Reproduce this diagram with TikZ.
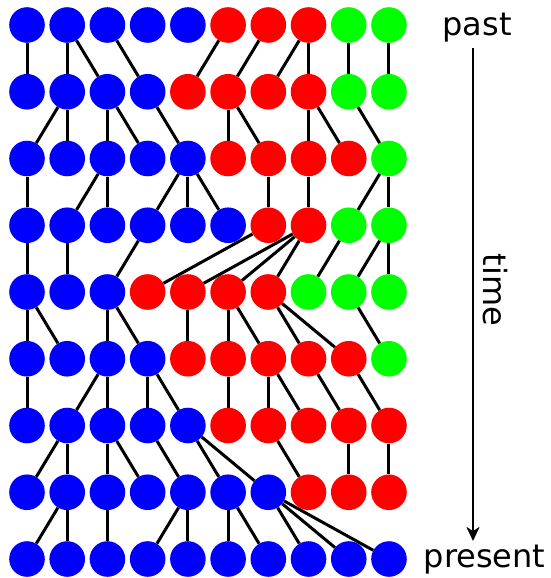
\documentclass[tikz,border=0pt]{standalone}
\usepackage{fontspec}
\setmainfont{DejaVu Sans}
\usetikzlibrary{arrows.meta}
\definecolor{cB}{RGB}{0,0,255}
\definecolor{cR}{RGB}{255,0,0}
\definecolor{cG}{RGB}{0,255,0}
\begin{document}
\begin{tikzpicture}[x=1pt,y=-1pt,
  dot/.style={circle,inner sep=0pt,minimum size=35.6pt,draw=none},
  link/.style={line width=3pt,black},
  lbl/.style={font=\fontsize{32}{38}\selectfont,inner sep=0pt}]
\useasboundingbox (0,0) rectangle (551,578);
% individuals: one row per generation, coloured by lineage
\foreach \r/\row in {
  0/{cB,cB,cB,cB,cB,cR,cR,cR,cG,cG},
  1/{cB,cB,cB,cB,cR,cR,cR,cR,cG,cG},
  2/{cB,cB,cB,cB,cB,cR,cR,cR,cR,cG},
  3/{cB,cB,cB,cB,cB,cB,cR,cR,cG,cG},
  4/{cB,cB,cB,cR,cR,cR,cR,cG,cG,cG},
  5/{cB,cB,cB,cB,cR,cR,cR,cR,cR,cG},
  6/{cB,cB,cB,cB,cB,cR,cR,cR,cR,cR},
  7/{cB,cB,cB,cB,cB,cB,cB,cR,cR,cR},
  8/{cB,cB,cB,cB,cB,cB,cB,cB,cB,cB}}{
  \foreach \col [count=\c from 0] in \row {
    \node[dot,fill=\col] (n-\r-\c) at ({27+40.22*\c},{25+66.75*\r}) {};
  }
}
% parent -> offspring links: generation / parent column / child column
\foreach \r/\p/\c in {
  0/0/0,0/1/1,0/1/2,0/2/3,0/5/4,0/6/5,0/7/6,0/7/7,0/8/8,0/9/9,
  1/1/0,1/1/1,1/2/2,1/2/3,1/3/4,1/5/5,1/5/6,1/7/7,1/7/8,1/8/9,
  2/0/0,2/2/1,2/2/2,2/4/3,2/4/4,2/4/5,2/6/6,2/7/7,2/9/8,2/9/9,
  3/0/0,3/1/1,3/3/2,3/6/3,3/7/4,3/7/5,3/7/6,3/8/7,3/9/8,3/9/9,
  4/0/0,4/0/1,4/2/2,4/2/3,4/4/4,4/5/5,4/5/6,4/6/7,4/6/8,4/8/9,
  5/0/0,5/2/1,5/2/2,5/3/3,5/3/4,5/5/5,5/6/6,5/6/7,5/7/8,5/8/9,
  6/1/0,6/1/1,6/2/2,6/2/3,6/3/4,6/4/5,6/4/6,6/6/7,6/8/8,6/9/9,
  7/1/0,7/1/1,7/2/2,7/4/3,7/4/4,7/5/5,7/5/6,7/6/7,7/6/8,7/6/9}{
  \pgfmathtruncatemacro{\nr}{\r+1}
  \draw[link] (n-\r-\p) -- (n-\nr-\c);
}
% time axis
\node[lbl,anchor=base] (past) at (477,36) {past};
\node[lbl,anchor=base] (present) at (484.5,567) {present};
\coordinate (tstart) at (473,48);
\coordinate (tend) at (473,541);
\draw[line width=2.5pt,-{Stealth[length=14pt,width=13pt,inset=4pt]}] (tstart) -- (tend);
\node[lbl,rotate=-90] (time) at (495,290) {time};
\end{tikzpicture}
\end{document}
